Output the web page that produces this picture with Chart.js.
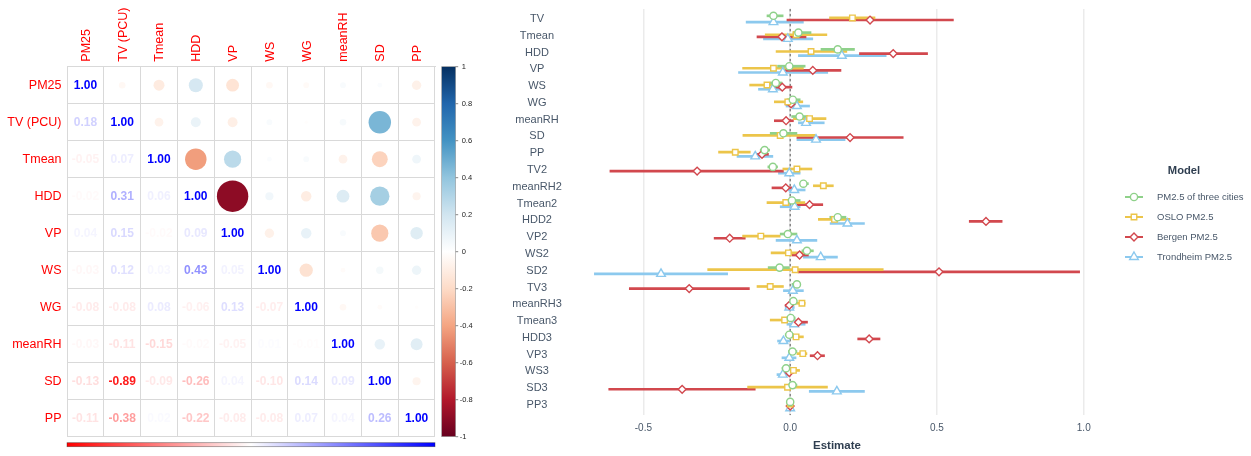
<!DOCTYPE html>
<html>
<head>
<meta charset="utf-8">
<script src="https://cdn.jsdelivr.net/npm/chart.js@4.4.1/dist/chart.umd.min.js"></script>
<style>
  html, body { margin: 0; padding: 0; background: #ffffff; }
  #wrap { position: relative; width: 1251px; height: 456px; overflow: hidden; }
  #corr { position: absolute; left: 0; top: 0; }
  #coef { position: absolute; left: 490px; top: 0; }
</style>
</head>
<body>
<div id="wrap">
  <canvas id="corr" width="490" height="456"></canvas>
  <canvas id="coef" width="761" height="456"></canvas>
</div>
<script>
// ---------------- correlation matrix data ----------------
const variables = ['PM25', 'TV (PCU)', 'Tmean', 'HDD', 'VP', 'WS', 'WG', 'meanRH', 'SD', 'PP'];

// printed coefficients below the diagonal: row i holds columns 0..i-1
const printedRows = [
  [],
  [0.18],
  [-0.05, 0.07],
  [-0.02, 0.31, 0.06],
  [0.04, 0.15, -0.02, 0.09],
  [-0.03, 0.12, 0.03, 0.43, 0.05],
  [-0.08, -0.08, 0.08, -0.06, 0.13, -0.07],
  [-0.03, -0.11, -0.15, -0.02, -0.05, 0.01, -0.01],
  [-0.13, -0.89, -0.09, -0.26, 0.04, -0.10, 0.14, 0.09],
  [-0.11, -0.38, 0.02, -0.22, -0.08, -0.08, 0.07, 0.04, 0.26]
];
const diagonalValue = 1;

// circle coefficients above the diagonal: row i holds columns i+1..9
const circleRows = [
  [-0.04, -0.11, 0.18, -0.15, -0.04, -0.03, 0.03, 0.02, -0.08],
  [-0.07, 0.09, -0.09, 0.03, -0.01, 0.04, 0.46, -0.07],
  [-0.42, 0.27, 0.02, 0.03, -0.07, -0.23, 0.07],
  [-0.90, 0.06, -0.10, 0.15, 0.34, -0.06],
  [-0.08, 0.10, 0.03, -0.27, 0.14],
  [-0.16, -0.02, 0.05, 0.08],
  [-0.04, -0.02, -0.01],
  [0.10, 0.13],
  [-0.06]
];

const colourbarTicks = [1, 0.8, 0.6, 0.4, 0.2, 0, -0.2, -0.4, -0.6, -0.8, -1];

// ---------------- regression estimates ----------------
const terms = ['TV', 'Tmean', 'HDD', 'VP', 'WS', 'WG', 'meanRH', 'SD', 'PP',
  'TV2', 'meanRH2', 'Tmean2', 'HDD2', 'VP2', 'WS2', 'SD2',
  'TV3', 'meanRH3', 'Tmean3', 'HDD3', 'VP3', 'WS3', 'SD3', 'PP3'];
const modelNames = ['PM2.5 of three cities', 'OSLO PM2.5', 'Bergen PM2.5', 'Trondheim PM2.5'];
const estimateTicks = [-0.5, 0, 0.5, 1.0];

const threeCitiesEst  = [-0.057, 0.028, 0.162, -0.003, -0.049, 0.009, 0.032, -0.023, -0.087, -0.059, 0.045, 0.006, 0.162, -0.008, 0.057, -0.036, 0.023, 0.011, 0.002, -0.003, 0.008, -0.014, 0.008, 0.000];
const threeCitiesLow  = [-0.079, 0.010, 0.105, -0.043, -0.068, -0.011, 0.005, -0.068, -0.102, -0.076, 0.034, -0.006, 0.135, -0.034, 0.040, -0.075, 0.006, 0.000, -0.011, -0.017, -0.006, -0.028, -0.006, -0.004];
const threeCitiesHigh = [-0.024, 0.071, 0.219, 0.051, -0.028, 0.034, 0.060, 0.023, -0.070, -0.043, 0.062, 0.034, 0.190, 0.023, 0.079, 0.000, 0.034, 0.023, 0.017, 0.011, 0.023, 0.000, 0.023, 0.004];

const osloEst  = [0.212, 0.020, 0.071, -0.057, -0.079, -0.008, 0.066, -0.034, -0.187, 0.023, 0.113, -0.015, 0.151, -0.100, -0.006, 0.017, -0.068, 0.040, -0.019, 0.020, 0.043, 0.011, -0.009, 0.000];
const osloLow  = [0.134, -0.085, -0.048, -0.162, -0.138, -0.054, 0.011, -0.161, -0.244, -0.025, 0.079, -0.079, 0.096, -0.162, -0.065, -0.281, -0.113, 0.017, -0.068, 0.006, 0.023, -0.011, -0.145, -0.004];
const osloHigh = [0.289, 0.125, 0.193, 0.045, -0.045, 0.043, 0.122, 0.085, -0.136, 0.074, 0.147, 0.050, 0.204, -0.034, 0.045, 0.317, -0.023, 0.051, 0.017, 0.045, 0.057, 0.032, 0.127, 0.004];

const bergenEst  = [0.272, -0.028, 0.351, 0.077, -0.027, 0.003, -0.014, 0.204, -0.096, -0.317, -0.015, 0.066, 0.667, -0.206, 0.032, 0.507, -0.344, -0.003, 0.028, 0.269, 0.093, -0.003, -0.368, 0.000];
const bergenLow  = [-0.011, -0.113, 0.236, -0.024, -0.057, -0.017, -0.054, 0.023, -0.113, -0.614, -0.062, 0.023, 0.610, -0.259, 0.006, 0.027, -0.548, -0.017, 0.006, 0.230, 0.068, -0.017, -0.618, -0.004];
const bergenHigh = [0.556, 0.054, 0.468, 0.173, 0.006, 0.023, 0.011, 0.385, -0.074, -0.023, 0.006, 0.111, 0.722, -0.153, 0.062, 0.986, -0.139, 0.006, 0.059, 0.306, 0.117, 0.011, -0.119, 0.004];

const trondheimEst  = [-0.057, -0.008, 0.176, -0.025, -0.059, 0.023, 0.054, 0.088, -0.119, -0.003, 0.014, 0.015, 0.195, 0.023, 0.104, -0.440, 0.009, -0.003, 0.014, -0.023, -0.003, -0.025, 0.159, 0.000];
const trondheimLow  = [-0.150, -0.091, 0.028, -0.176, -0.108, -0.014, 0.028, 0.023, -0.181, -0.040, -0.006, -0.034, 0.136, -0.048, 0.045, -0.667, -0.023, -0.017, -0.011, -0.043, -0.028, -0.045, 0.065, -0.004];
const trondheimHigh = [0.045, 0.077, 0.327, 0.128, -0.025, 0.066, 0.116, 0.187, -0.059, 0.034, 0.051, 0.034, 0.253, 0.091, 0.161, -0.213, 0.045, 0.014, 0.051, -0.002, 0.020, -0.006, 0.253, 0.004];

// ---------------- styling ----------------
const FONT = '"Liberation Sans", Arial, Helvetica, sans-serif';
Chart.defaults.font.family = FONT;

const rdbuStops = ['#67001F', '#B2182B', '#D6604D', '#F4A582', '#FDDBC7', '#FFFFFF',
                   '#D1E5F0', '#92C5DE', '#4393C3', '#2166AC', '#053061'];

function hexToRgb(h) {
  return [parseInt(h.slice(1, 3), 16), parseInt(h.slice(3, 5), 16), parseInt(h.slice(5, 7), 16)];
}
function rdbu(v) {
  const t = (Math.max(-1, Math.min(1, v)) + 1) / 2 * 10;
  const i = Math.min(9, Math.floor(t));
  const f = t - i;
  const a = hexToRgb(rdbuStops[i]), b = hexToRgb(rdbuStops[i + 1]);
  const c = a.map((x, k) => Math.round(x + (b[k] - x) * f));
  return `rgb(${c[0]},${c[1]},${c[2]})`;
}
// number colour: white -> blue for positive, white -> red for negative
function numberColour(v) {
  const c = Math.round(255 * (1 - Math.min(1, Math.abs(v))));
  return v >= 0 ? `rgb(${c},${c},255)` : `rgb(255,${c},${c})`;
}

// ---------------- correlation matrix chart ----------------
const CORR_AXIS_W = 67, CORR_AXIS_H = 66.7, CORR_PAD_R = 55, CORR_PAD_B = 19.3;
const corrCanvas = document.getElementById('corr');
const corrCell = (corrCanvas.width - CORR_AXIS_W - CORR_PAD_R) / variables.length;

// circle area proportional to |r|
const circlePoints = [];
const circleColours = [];
circleRows.forEach((row, i) => {
  row.forEach((v, k) => {
    circlePoints.push({ x: variables[i + 1 + k], y: variables[i], r: 0.45 * corrCell * Math.sqrt(Math.abs(v)) });
    circleColours.push(rdbu(v));
  });
});

const corrDecor = {
  id: 'corrDecor',
  afterDraw(chart) {
    const { ctx, chartArea: a, scales: { x, y } } = chart;
    ctx.save();

    // coefficients printed on and below the diagonal
    ctx.font = `bold 12px ${FONT}`;
    ctx.textAlign = 'center';
    ctx.textBaseline = 'middle';
    printedRows.forEach((row, i) => {
      row.concat([diagonalValue]).forEach((v, j) => {
        ctx.fillStyle = j === i ? '#0000ff' : numberColour(v);
        ctx.fillText(v.toFixed(2), x.getPixelForValue(j), y.getPixelForValue(i) + 0.5);
      });
    });

    // rotated column headers
    ctx.font = `12.5px ${FONT}`;
    ctx.fillStyle = '#ff0000';
    ctx.textAlign = 'left';
    ctx.textBaseline = 'middle';
    variables.forEach((name, j) => {
      ctx.save();
      ctx.translate(x.getPixelForValue(j) + 1, a.top - 5);
      ctx.rotate(-Math.PI / 2);
      ctx.fillText(name, 0, 0);
      ctx.restore();
    });

    // colour key for the circles
    const bx = a.right + 6.7, bw = 14;
    const g = ctx.createLinearGradient(0, a.bottom, 0, a.top);
    rdbuStops.forEach((c, k) => g.addColorStop(k / 10, c));
    ctx.fillStyle = g;
    ctx.fillRect(bx, a.top, bw, a.bottom - a.top);
    ctx.strokeStyle = '#9a9a9a';
    ctx.lineWidth = 0.6;
    ctx.strokeRect(bx, a.top, bw, a.bottom - a.top);
    ctx.font = `7.5px ${FONT}`;
    ctx.fillStyle = '#222222';
    ctx.textAlign = 'left';
    ctx.textBaseline = 'middle';
    colourbarTicks.forEach(v => {
      const ty = a.bottom - (v + 1) / 2 * (a.bottom - a.top);
      ctx.beginPath();
      ctx.moveTo(bx + bw, ty);
      ctx.lineTo(bx + bw + 2.5, ty);
      ctx.strokeStyle = '#555555';
      ctx.lineWidth = 0.7;
      ctx.stroke();
      ctx.fillText(String(v), bx + bw + 4 + (v >= 0 ? 2 : 0), ty + 0.5);
    });

    // colour key for the printed numbers
    const g2 = ctx.createLinearGradient(a.left, 0, a.right, 0);
    g2.addColorStop(0, '#ff0000');
    g2.addColorStop(0.5, '#ffffff');
    g2.addColorStop(1, '#0000ff');
    ctx.fillStyle = g2;
    ctx.fillRect(a.left, a.bottom + 6, a.right - a.left, 4);
    ctx.strokeStyle = 'rgba(40,40,40,0.55)';
    ctx.lineWidth = 0.7;
    ctx.strokeRect(a.left, a.bottom + 6, a.right - a.left, 4);

    ctx.restore();
  }
};

new Chart(corrCanvas, {
  type: 'bubble',
  data: {
    datasets: [{
      data: circlePoints,
      backgroundColor: circleColours,
      borderWidth: 0
    }]
  },
  options: {
    responsive: false,
    animation: false,
    events: [],
    layout: { autoPadding: false, padding: { left: 0, top: 0, right: CORR_PAD_R, bottom: CORR_PAD_B } },
    plugins: { legend: { display: false }, tooltip: { enabled: false } },
    scales: {
      x: {
        type: 'category', labels: variables, position: 'top', offset: true,
        grid: { offset: true, color: '#d9d9d9', drawTicks: false },
        border: { color: '#d9d9d9' },
        ticks: { display: false },
        afterFit: s => { s.height = CORR_AXIS_H; }
      },
      y: {
        type: 'category', labels: variables, offset: true,
        grid: { offset: true, color: '#d9d9d9', drawTicks: false },
        border: { color: '#d9d9d9' },
        ticks: { color: '#ff0000', font: { size: 12.5 }, padding: 5.5, autoSkip: false },
        afterFit: s => { s.width = CORR_AXIS_W; }
      }
    }
  },
  plugins: [corrDecor]
});

// ---------------- coefficient chart ----------------
const series = [
  { name: modelNames[0], est: threeCitiesEst, low: threeCitiesLow, high: threeCitiesHigh },
  { name: modelNames[1], est: osloEst, low: osloLow, high: osloHigh },
  { name: modelNames[2], est: bergenEst, low: bergenLow, high: bergenHigh },
  { name: modelNames[3], est: trondheimEst, low: trondheimLow, high: trondheimHigh }
];
const seriesStyle = [
  { colour: '#8fd18a', shape: 'circle',   size: 3.6 },
  { colour: '#ecc54a', shape: 'rect',     size: 3.9 },
  { colour: '#d2484e', shape: 'rectRot',  size: 3.9 },
  { colour: '#8cc9ee', shape: 'triangle', size: 5.0 }
];
const dodge = [-0.1875, -0.0625, 0.0625, 0.1875];

const coefDatasets = [];
series.forEach((s, k) => {
  const st = seriesStyle[k];
  coefDatasets.push({
    type: 'bar',
    label: s.name + ' interval',
    grouped: false,
    barThickness: 2,
    borderWidth: 0,
    backgroundColor: st.colour,
    order: 2,
    data: terms.map((t, i) => ({ x: [s.low[i], s.high[i]], y: i + dodge[k] }))
  });
});
series.forEach((s, k) => {
  const st = seriesStyle[k];
  coefDatasets.push({
    type: 'scatter',
    label: s.name,
    pointStyle: st.shape,
    pointRadius: st.size,
    pointBorderWidth: 1.4,
    pointBorderColor: st.colour,
    pointBackgroundColor: '#ffffff',
    order: 1,
    data: terms.map((t, i) => ({ x: s.est[i], y: i + dodge[k] }))
  });
});

function drawMarker(ctx, shape, x, y, r) {
  ctx.beginPath();
  if (shape === 'circle') {
    ctx.arc(x, y, r, 0, Math.PI * 2);
  } else if (shape === 'rect') {
    const s = r * Math.SQRT1_2;
    ctx.rect(x - s, y - s, 2 * s, 2 * s);
  } else if (shape === 'rectRot') {
    ctx.moveTo(x - r, y); ctx.lineTo(x, y - r); ctx.lineTo(x + r, y); ctx.lineTo(x, y + r);
    ctx.closePath();
  } else {
    for (let k = 0; k < 3; k++) {
      const ang = k * 2 * Math.PI / 3;
      const px = x + Math.sin(ang) * r, py = y - Math.cos(ang) * r;
      if (k === 0) ctx.moveTo(px, py); else ctx.lineTo(px, py);
    }
    ctx.closePath();
  }
  ctx.fill();
  ctx.stroke();
}

const zeroLine = {
  id: 'zeroLine',
  beforeDatasetsDraw(chart) {
    const { ctx, chartArea: a, scales: { x } } = chart;
    const px = x.getPixelForValue(0);
    ctx.save();
    ctx.strokeStyle = '#555555';
    ctx.lineWidth = 1;
    ctx.setLineDash([2.5, 2.5]);
    ctx.beginPath();
    ctx.moveTo(px, a.top);
    ctx.lineTo(px, a.bottom);
    ctx.stroke();
    ctx.restore();
  }
};

const modelLegend = {
  id: 'modelLegend',
  afterDraw(chart) {
    const { ctx, chartArea: a } = chart;
    const left = a.right + 21;
    ctx.save();
    ctx.font = `bold 11.2px ${FONT}`;
    ctx.fillStyle = '#2f3e50';
    ctx.textAlign = 'center';
    ctx.textBaseline = 'middle';
    ctx.fillText('Model', a.right + 80, 171);
    ctx.font = `9.5px ${FONT}`;
    ctx.textAlign = 'left';
    series.forEach((s, k) => {
      const st = seriesStyle[k];
      const yy = 197 + 20 * k;
      ctx.strokeStyle = st.colour;
      ctx.lineWidth = 2;
      ctx.beginPath();
      ctx.moveTo(left, yy);
      ctx.lineTo(left + 18, yy);
      ctx.stroke();
      ctx.fillStyle = '#ffffff';
      ctx.lineWidth = 1.4;
      drawMarker(ctx, st.shape, left + 9, yy, st.size);
      ctx.fillStyle = '#485769';
      ctx.fillText(s.name, left + 32, yy);
    });
    ctx.restore();
  }
};

const axisColour = '#485769';

new Chart(document.getElementById('coef'), {
  type: 'bar',
  data: { datasets: coefDatasets },
  options: {
    indexAxis: 'y',
    responsive: false,
    animation: false,
    events: [],
    layout: { autoPadding: false, padding: { left: 0, top: 8.9, right: 147, bottom: 0 } },
    plugins: { legend: { display: false }, tooltip: { enabled: false } },
    scales: {
      x: {
        type: 'linear', min: -0.75, max: 1.069, bounds: 'data', offset: false,
        beginAtZero: false,
        grid: { offset: false, color: '#ebebeb', lineWidth: 1.5, drawTicks: false },
        border: { display: false },
        ticks: { color: axisColour, font: { size: 10 }, padding: 7,
                 callback: v => Number(v).toFixed(1) },
        title: { display: true, text: 'Estimate', color: '#2f3e50',
                 font: { size: 11.5, weight: 'bold' }, padding: { top: 2, bottom: 3.1 } },
        afterBuildTicks: s => { s.ticks = estimateTicks.map(v => ({ value: v })); },
        afterFit: s => { s.height = 40.9; s.paddingLeft = 0; s.paddingRight = 0; }
      },
      y: {
        type: 'linear', reverse: true, min: -0.6, max: terms.length - 0.4, bounds: 'data',
        offset: false, beginAtZero: false,
        grid: { offset: false, display: false, drawTicks: false },
        border: { display: false },
        ticks: { autoSkip: false, crossAlign: 'center', padding: 8.25,
                 color: axisColour, font: { size: 11 },
                 callback: v => (terms[v] !== undefined ? terms[v] : '') },
        afterBuildTicks: s => { s.ticks = terms.map((t, i) => ({ value: i })); },
        afterFit: s => { s.width = 80; s.paddingTop = 0; s.paddingBottom = 0; }
      }
    }
  },
  plugins: [zeroLine, modelLegend]
});
</script>
</body>
</html>
